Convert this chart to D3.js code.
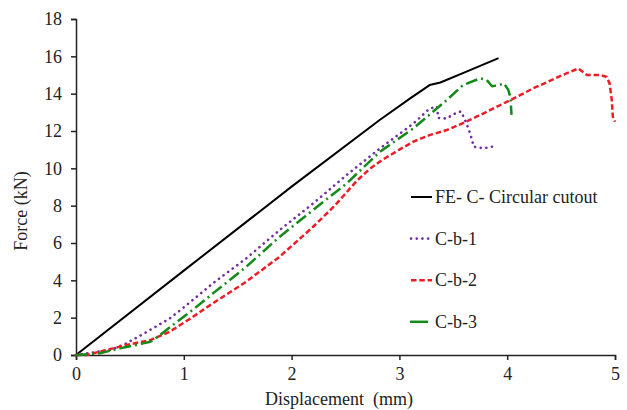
<!DOCTYPE html>
<html><head><meta charset="utf-8">
<script src="https://cdn.jsdelivr.net/npm/d3@7"></script>
<style>
html,body{margin:0;padding:0;background:#fff;}
svg text{font-family:"Liberation Serif","Times New Roman",serif;fill:#222;}
</style></head>
<body><svg id="c" width="627" height="410"></svg>
<script>
const xTicks = [0,1,2,3,4,5];
const yTicks = [0,2,4,6,8,10,12,14,16,18];
const seriesNames = ["FE- C- Circular cutout","C-b-1","C-b-2","C-b-3"];
const feX = [0,1,2,2.82,3.1,3.28,3.38,3.6,3.92];
const feY = [0,4.52,9.02,12.6,13.75,14.46,14.6,15.13,15.9];
const b1X = [0,0.1,0.32,0.47,0.66,0.87,1.0,1.27,1.58,1.89,2.2,2.51,2.82,3.13,3.28,3.35,3.36,3.44,3.5,3.57,3.6,3.64,3.67,3.69,3.78,3.86];
const b1Y = [0,0.09,0.27,0.63,1.25,1.96,2.55,3.84,5.18,6.7,8.12,9.64,11.07,12.4,13.2,13.3,12.7,12.67,12.9,13.05,12.7,12.14,11.6,11.16,11.07,11.16];
const b2X = [0,0.1,0.22,0.47,0.69,0.87,1.06,1.27,1.58,1.89,2.2,2.4,2.6,2.72,2.84,3.0,3.13,3.28,3.44,3.62,3.8,4.03,4.24,4.55,4.66,4.74,4.86,4.92,4.95,4.97,4.98,5.0];
const b2Y = [0,0,0.18,0.54,0.8,1.25,1.95,2.77,3.93,5.27,6.87,8.0,9.3,9.95,10.45,11.0,11.43,11.78,12.05,12.5,13.0,13.66,14.28,15.09,15.35,15.0,15.0,14.91,14.55,13.66,12.76,12.5];
const b3X = [0,0.22,0.41,0.56,0.69,0.78,0.93,1.09,1.27,1.58,1.89,2.2,2.51,2.82,3.13,3.44,3.59,3.75,3.81,3.86,3.92,3.97,4.01,4.03,4.04];
const b3Y = [0,0.09,0.36,0.54,0.71,1.07,1.75,2.45,3.3,4.73,6.34,7.77,9.19,10.89,12.14,13.66,14.46,14.82,14.73,14.4,14.45,14.55,14.2,13.8,12.86];

const svg = d3.select("#c");
const x = d3.scaleLinear().domain([0,5]).range([76,615]);
const y = d3.scaleLinear().domain([0,18]).range([355,19]);

const styles = [
  {color:"#000000", width:2, dash:null, cap:"butt"},
  {color:"#7030A0", width:2.6, dash:"0.1 5.6", cap:"round"},
  {color:"#EE1C24", width:2.5, dash:"5.5 2.8", cap:"butt"},
  {color:"#138A1A", width:2.5, dash:"12 4 2 4", cap:"butt"}
];
const data = [[feX,feY],[b1X,b1Y],[b2X,b2Y],[b3X,b3Y]].map(([xs,ys]) => xs.map((v,i)=>[v,ys[i]]));

const gx = svg.append("g").attr("transform","translate(0,355)")
  .call(d3.axisBottom(x).tickValues(xTicks).tickSize(5).tickPadding(7).tickFormat(d3.format("d")));
const gy = svg.append("g").attr("transform","translate(76,0)")
  .call(d3.axisLeft(y).tickValues(yTicks).tickSize(5).tickPadding(9).tickFormat(d3.format("d")));
[gx,gy].forEach(g=>{
  g.selectAll("path").attr("stroke","#222").attr("stroke-width",1.5);
  g.selectAll("line").attr("stroke","#222").attr("stroke-width",1.5);
  g.selectAll("text").attr("font-size",18).attr("font-family","Liberation Serif").attr("fill","#222");
});

const line = d3.line().x(d=>x(d[0])).y(d=>y(d[1]));
data.forEach((d,i)=>{
  svg.append("path").datum(d).attr("d",line).attr("fill","none")
    .attr("stroke",styles[i].color).attr("stroke-width",styles[i].width)
    .attr("stroke-dasharray",styles[i].dash).attr("stroke-linecap",styles[i].cap)
    .attr("stroke-linejoin","round");
});

svg.append("text").attr("x",339).attr("y",405).attr("text-anchor","middle")
  .attr("font-size",18).style("white-space","pre").text("Displacement  (mm)");
svg.append("text").attr("transform","translate(27,211) rotate(-90)").attr("text-anchor","middle")
  .attr("font-size",18).text("Force (kN)");

const leg = svg.append("g");
seriesNames.forEach((n,i)=>{
  const ly = 197 + i*41.6;
  const x1 = i===3 ? 410 : 411, x2 = i===3 ? 428 : 432;
  leg.append("line").attr("x1",x1).attr("x2",x2).attr("y1",ly).attr("y2",ly)
    .attr("stroke",styles[i].color).attr("stroke-width",styles[i].width)
    .attr("stroke-dasharray", i===3 ? null : styles[i].dash).attr("stroke-linecap",styles[i].cap);
  leg.append("text").attr("x",435).attr("y",ly).attr("dy","0.33em").attr("font-size",18).text(n);
});
</script></body></html>
